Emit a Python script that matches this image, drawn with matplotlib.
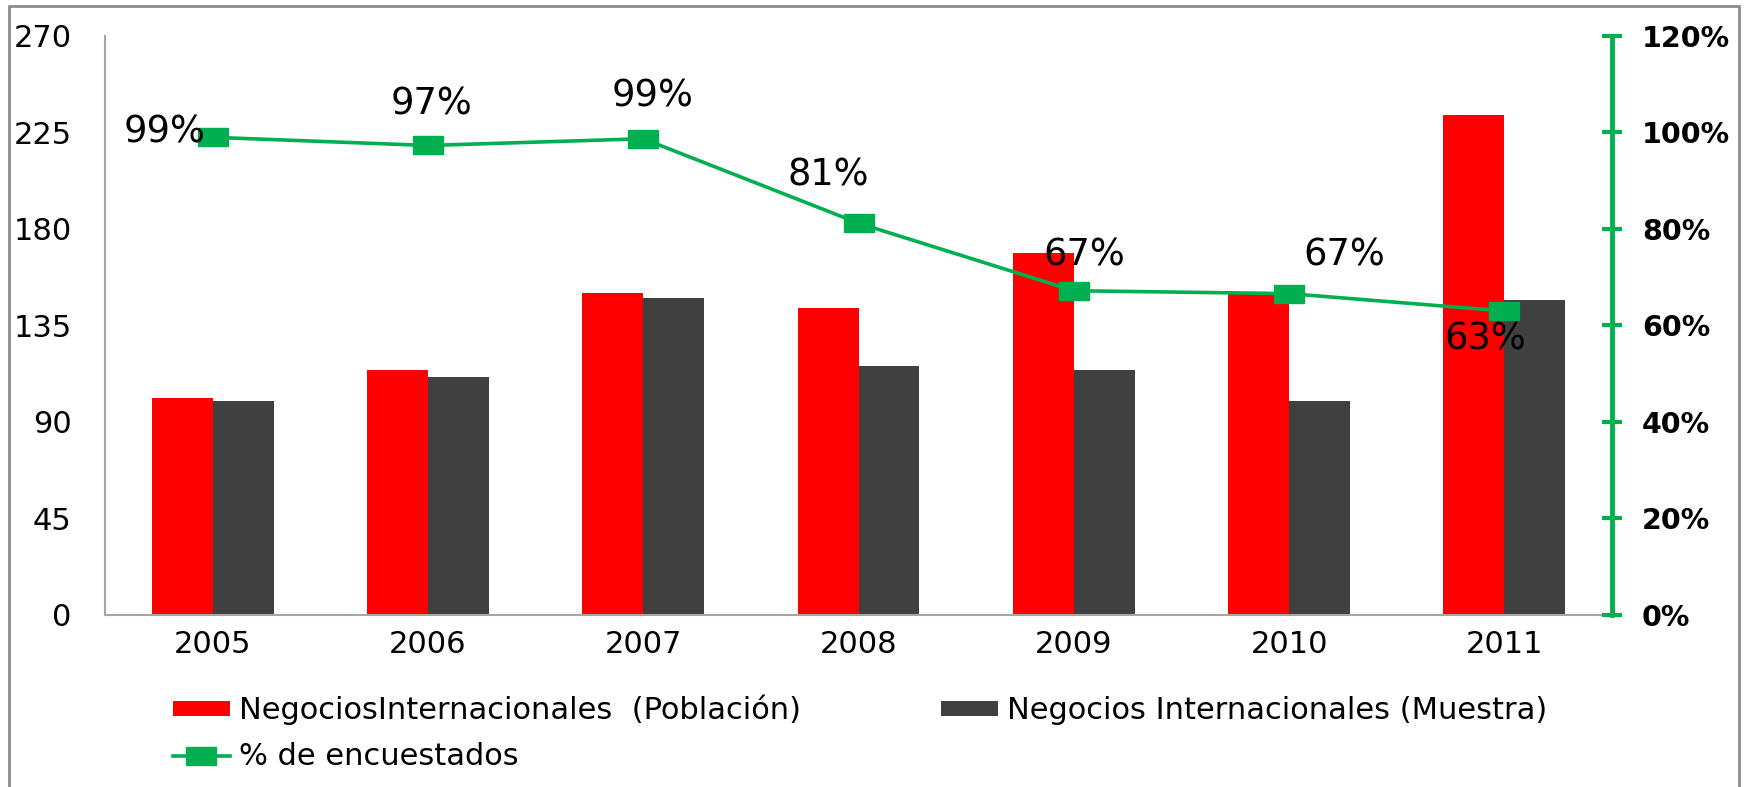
import numpy as np
import matplotlib
matplotlib.use("Agg")
import matplotlib.pyplot as plt
from matplotlib.patches import Rectangle

years = ["2005", "2006", "2007", "2008", "2009", "2010", "2011"]
poblacion = [101, 114, 150, 143, 169, 150, 233]
muestra = [100, 111, 148, 116, 114, 100, 147]
encuestados = [0.99, 0.973, 0.987, 0.812, 0.672, 0.666, 0.63]

RED = "#FF0000"
DARK = "#404040"
GREEN = "#00B050"

plt.rcParams['font.family'] = ['DejaVu Sans']

fig = plt.figure(figsize=(17.48, 7.87), dpi=100)
ax = fig.add_axes([0.0601, 0.2186, 0.8621, 0.7357])
ax2 = ax.twinx()

x = np.arange(len(years))
w = 0.283
b1 = ax.bar(x - w / 2, poblacion, w, color=RED, label="NegociosInternacionales  (Población)")
b2 = ax.bar(x + w / 2, muestra, w, color=DARK, label="Negocios Internacionales (Muestra)")

# wide flat square marker like the excel one
box = [(-1, -0.62), (1, -0.62), (1, 0.62), (-1, 0.62), (-1, -0.62)]
ln, = ax2.plot(x, encuestados, color=GREEN, lw=2.6, marker=box, markersize=21,
               label="% de encuestados")

# label offsets in pixels (dx, dy)
offs = [(-48, 5), (4, 41), (9, 43), (-30, 48), (10, 36), (55, 39), (-19, -28)]
for xi, v, (dx, dy) in zip(x, encuestados, offs):
    ax2.annotate(f"{round(v * 100)}%", (xi, v), xytext=(dx, dy),
                 textcoords="offset pixels", ha="center", va="center",
                 fontsize=26.5, color="black")

ax.set_xlim(-0.5, len(years) - 0.5)
ax.set_ylim(0, 270)
ax.set_yticks(np.arange(0, 271, 45))
ax2.set_ylim(0, 1.2)
ax2.set_yticks(np.arange(0, 1.21, 0.2))
ax2.set_yticklabels([f"{int(round(t * 100))}%" for t in np.arange(0, 1.21, 0.2)],
                    fontweight="bold")

ax.set_xticks(x)
ax.set_xticklabels(years)
ax.tick_params(axis="x", length=0, pad=11, labelsize=22)
ax.tick_params(axis="y", length=0, pad=24, labelsize=22)
ax2.tick_params(axis="y", direction="inout", length=15, width=3, color=GREEN,
                pad=14, labelsize=20.5)

for a in (ax, ax2):
    a.spines["top"].set_visible(False)
ax.spines["right"].set_visible(False)
ax2.spines["left"].set_visible(False)
ax2.spines["bottom"].set_visible(False)
ax.spines["left"].set_color("#A6A6A6")
ax.spines["left"].set_linewidth(1.5)
ax.spines["bottom"].set_color("#A6A6A6")
ax.spines["bottom"].set_linewidth(1.5)
ax2.spines["right"].set_color(GREEN)
ax2.spines["right"].set_linewidth(3.5)

handles = [b1, ln, b2]
labels = [h.get_label() for h in handles]
fig.legend(handles, labels, ncol=2, loc="upper left",
           bbox_to_anchor=(0.099, 0.117), frameon=False, fontsize=22,
           handlelength=1.85, handleheight=0.4, handletextpad=0.3,
           labelspacing=0.55, columnspacing=4.6, borderaxespad=0, borderpad=0)

# gray frame around the whole chart
fig.patches.append(Rectangle((0.005, -0.02), 0.9898, 1.012, transform=fig.transFigure,
                             fill=False, edgecolor="#8C8C8C", lw=2))

fig.savefig("out.png", dpi=100)
